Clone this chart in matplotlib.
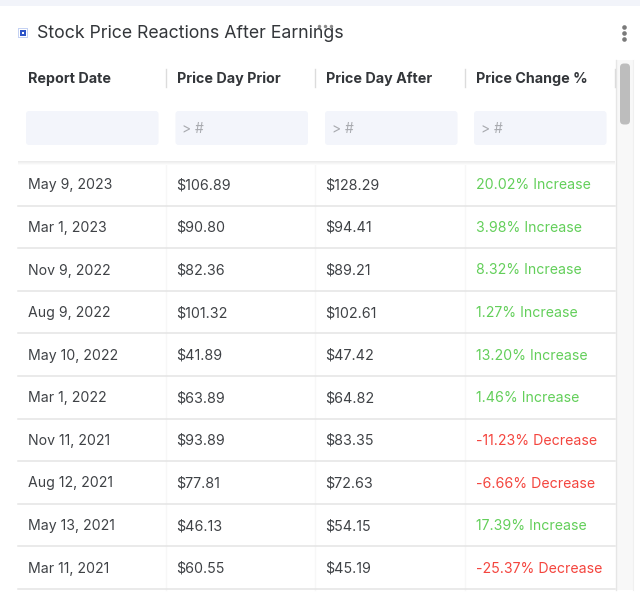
import matplotlib
matplotlib.use("Agg")
import matplotlib.pyplot as plt
from matplotlib.patches import Rectangle, FancyBboxPatch

title = "Stock Price Reactions After Earnings"
headers = ["Report Date", "Price Day Prior", "Price Day After", "Price Change %"]
dates = ["May 9, 2023", "Mar 1, 2023", "Nov 9, 2022", "Aug 9, 2022", "May 10, 2022",
         "Mar 1, 2022", "Nov 11, 2021", "Aug 12, 2021", "May 13, 2021", "Mar 11, 2021"]
prior = [106.89, 90.80, 82.36, 101.32, 41.89, 63.89, 93.89, 77.81, 46.13, 60.55]
after = [128.29, 94.41, 89.21, 102.61, 47.42, 64.82, 83.35, 72.63, 54.15, 45.19]
change = [20.02, 3.98, 8.32, 1.27, 13.20, 1.46, -11.23, -6.66, 17.39, -25.37]

plt.rcParams['font.family'] = ['Inter', 'DejaVu Sans']
W, H = 640, 596
fig = plt.figure(figsize=(W/100, H/100), dpi=100)
ax = fig.add_axes([0, 0, 1, 1])
ax.set_xlim(0, W); ax.set_ylim(H, 0); ax.axis('off')

GREEN, RED, DARK = '#63cf5a', '#f4453e', '#3f4246'

def rect(x, y, w, h, c, z=1):
    ax.add_patch(Rectangle((x, y), w, h, fc=c, ec='none', zorder=z))

def rrect(x, y, w, h, c, r=3, z=2):
    ax.add_patch(FancyBboxPatch((x+r, y+r), w-2*r, h-2*r, boxstyle=f"round,pad={r}",
                                fc=c, ec='none', zorder=z))

rect(0, 0, W, 6, '#f2f4fa')

# Title icon and text
rect(18, 28, 9.5, 10, '#c5d2f3', 2)
rect(19, 29, 7.5, 8, '#ffffff', 3)
rect(20, 30, 5.5, 6, '#2f55c8', 4)
rect(21.5, 31.6, 2.5, 2.8, '#ffffff', 5)
ax.text(37, 33.5, title, fontsize=12.78, color='#33363a', va='center', ha='left')

# Drag handle and menu dots
ax.scatter([319, 325, 331], [25.5]*3, s=6, color='#8a8a8a', lw=0, zorder=6)
ax.scatter([624]*3, [26.5, 33, 39], s=11, color='#7a7a7a', lw=0, zorder=6)

cols = [27.5, 177, 326, 476]
seps = [166, 315, 464.5]
boxes = [26, 175.5, 325, 474]

# Header
for x, h in zip(cols, headers):
    ax.text(x, 79, h, fontsize=10.3, fontweight='bold', color='#33363a', va='center', ha='left')
for x in seps + [614.5]:
    ax.plot([x, x], [69, 87], color='#dcdcdc', lw=1.0, zorder=3)

# Filter boxes
for i, x in enumerate(boxes):
    rrect(x, 111, 132.5, 34, '#f3f5fb')
    if i:
        ax.text(x + 7, 129, "> #", fontsize=10, color='#a9abb0', va='center', ha='left')

# Shadow below header
for k, c in enumerate(['#ececec', '#f1f1f1', '#f6f6f6', '#fbfbfb']):
    rect(18, 161 + k, 597, 1, c, 2)

# Rows
row_top = 163.0
row_h = 42.6
for i, (d, p, a, c) in enumerate(zip(dates, prior, after, change)):
    yc = row_top + row_h * (i + 0.5) + 1
    yb = row_top + row_h * (i + 1)
    ax.plot([18, 615], [yb, yb], color='#e4e4e4', lw=1.1, zorder=2)
    ax.text(cols[0], yc, d, fontsize=10.15, color=DARK, va='center', ha='left')
    ax.text(cols[1] - 0.8, yc, f"${p:.2f}", fontsize=10.3, color=DARK, va='center', ha='left')
    ax.text(cols[2] - 0.8, yc, f"${a:.2f}", fontsize=10.3, color=DARK, va='center', ha='left')
    label = f"{c:.2f}% Increase" if c > 0 else f"{c:.2f}% Decrease"
    ax.text(cols[3], yc, label, fontsize=10.2, color=GREEN if c > 0 else RED, va='center', ha='left')

# Faint column separators in body
for x in seps:
    ax.plot([x, x], [163, 590], color='#f7f7f7', lw=1, zorder=1)

# Scrollbar
rect(615.5, 60, 17, 530, '#f8f8f8', 1)
ax.plot([615.5, 615.5], [60, 590], color='#e6e6e6', lw=1, zorder=2)
ax.plot([632.5, 632.5], [60, 590], color='#f0f0f0', lw=0.8, zorder=2)
rrect(620, 63.5, 10, 61, '#bdbdbd', r=4, z=3)

fig.savefig("out.png", dpi=100)
